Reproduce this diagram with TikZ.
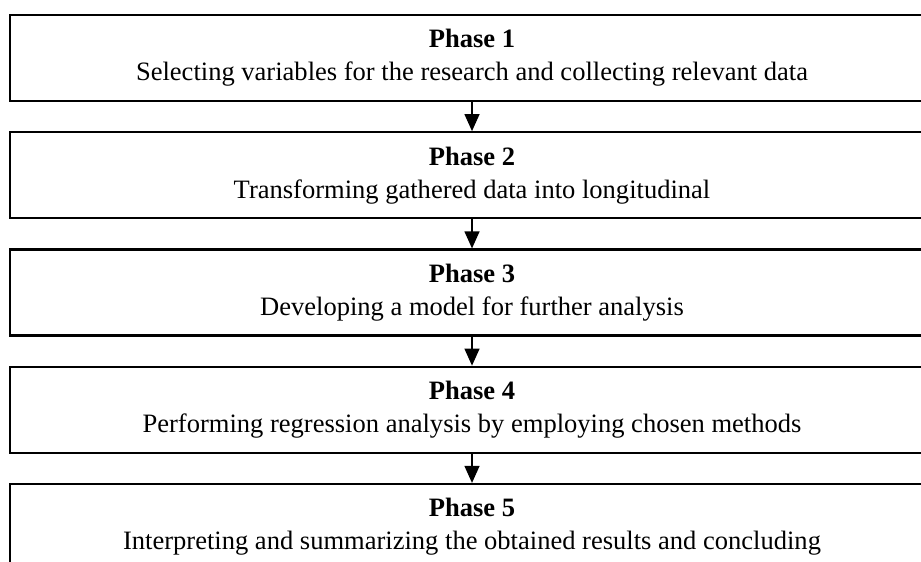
\documentclass[tikz,border=0pt]{standalone}
\usepackage{fontspec}
\setmainfont{Liberation Serif}
\usetikzlibrary{arrows.meta,positioning}

\begin{document}
\begin{tikzpicture}[-{Triangle[length=.34cm,width=.3cm]}, line width=.025cm, node distance=.58cm]
   \tikzstyle{phase}=[rectangle, draw, line width=.045cm, minimum width=18.48cm, minimum height=1.72cm, align=center, font=\fontsize{15.1}{18.7}\selectfont]

   \useasboundingbox (0,0) rectangle (18.42,-11.22);
   \clip (0,0) rectangle (18.42,-11.22);

   \node[phase] (phase1) at (9.44,-1.16) {\textbf{Phase 1}\\Selecting variables for the research and collecting relevant data};
   \node[phase] (phase2) [below=of phase1] {\textbf{Phase 2}\\Transforming gathered data into longitudinal};
   \node[phase] (phase3) [below=of phase2] {\textbf{Phase 3}\\Developing a model for further analysis};
   \node[phase] (phase4) [below=of phase3] {\textbf{Phase 4}\\Performing regression analysis by employing chosen methods};
   \node[phase] (phase5) [below=of phase4] {\textbf{Phase 5}\\Interpreting and summarizing the obtained results and concluding};

   \path
  (phase1) edge (phase2)
  (phase2) edge (phase3)
  (phase3) edge (phase4)
  (phase4) edge (phase5)
   ;
\end{tikzpicture}
\end{document}
